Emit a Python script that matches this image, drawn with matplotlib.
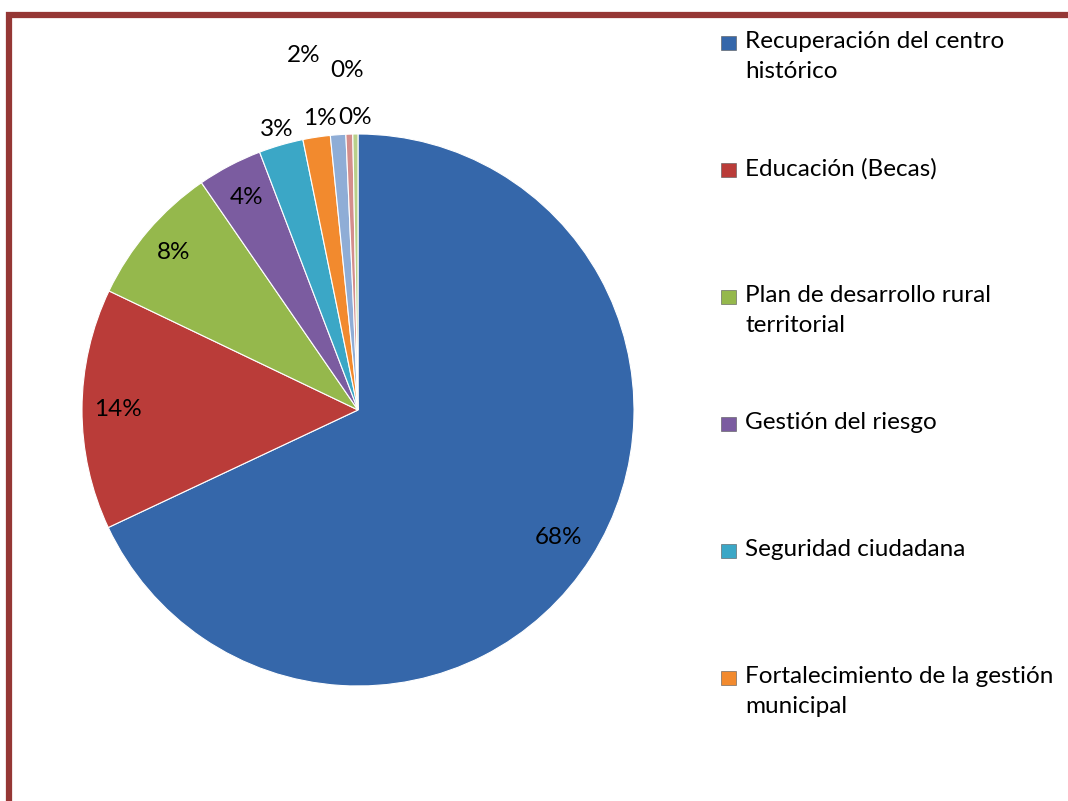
import numpy as np
import matplotlib.pyplot as plt
from matplotlib.patches import Rectangle

plt.rcParams['font.family'] = ['Lato', 'DejaVu Sans']

# data (percent of total)
categorias = ['Recuperación del centro\nhistórico', 'Educación (Becas)',
              'Plan de desarrollo rural\nterritorial', 'Gestión del riesgo',
              'Seguridad ciudadana', 'Fortalecimiento de la gestión\nmunicipal',
              'Otro 7', 'Otro 8', 'Otro 9']
valores = [68.0, 14.1, 8.3, 3.8, 2.6, 1.6, 0.9, 0.4, 0.3]
colores = ['#3567AA', '#BA3C39', '#95B84C', '#7B5CA0', '#3BA7C6',
           '#F28A2E', '#8FADD6', '#D48E8C', '#B9D08A']
n_legend = 6  # only the first six fit in the legend box

# label radius (fraction of pie radius) and alignment for each slice
label_r = [0.86, 0.87, 0.88, 0.87, 1.06, 1.30, 1.06, 1.23, 1.06]
label_ha = ['center', 'center', 'center', 'center', 'center',
            'center', 'right', 'center', 'center']

W, H = 1068, 801
fig = plt.figure(figsize=(W / 100, H / 100), dpi=100)

# pie axes: centre (358, 410) px, radius 276 px
R = 276
cx, cy = 358, 410
half = 300
ax = fig.add_axes([(cx - half) / W, (H - cy - half) / H, 2 * half / W, 2 * half / H])
lim = half / R

wedges, _ = ax.pie(valores, colors=colores, startangle=90, counterclock=False,
                   radius=1, wedgeprops=dict(edgecolor='white', linewidth=0.8))
ax.set_xlim(-lim, lim)
ax.set_ylim(-lim, lim)
ax.set_aspect('equal')
ax.axis('off')

total = sum(valores)
for w, v, r, ha in zip(wedges, valores, label_r, label_ha):
    th = np.deg2rad((w.theta1 + w.theta2) / 2)
    ax.text(r * np.cos(th), r * np.sin(th), '%.0f%%' % (v / total * 100),
            ha=ha, va='center', fontsize=17.5, color='black')

# legend, Excel style
top = 43
step = 127
for i in range(n_legend):
    y = top + i * step
    fig.add_artist(Rectangle(((721) / W, 1 - (y + 7) / H), 15 / W, 14 / H,
                             transform=fig.transFigure, facecolor=colores[i],
                             edgecolor='#555555', linewidth=0.4))
    fig.text(745 / W, 1 - (y - 12) / H, categorias[i], ha='left', va='top',
             fontsize=17.5, color='black', linespacing=1.52)

# dark red frame (top and left visible)
fig.add_artist(Rectangle((9 / W, -20 / H), 1.2, (H - 15 + 20) / H,
                         transform=fig.transFigure, fill=False,
                         edgecolor='#953735', linewidth=4.5))

fig.savefig('out.png', dpi=100)
